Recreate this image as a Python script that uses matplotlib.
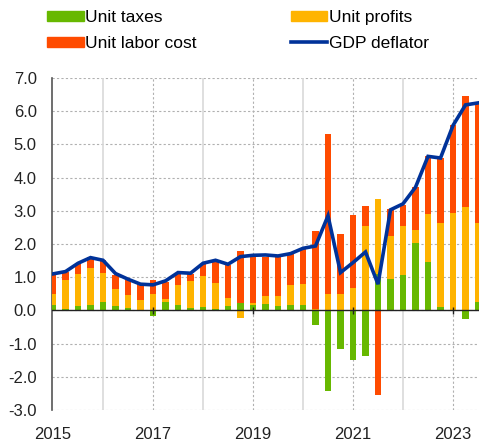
import numpy as np
import matplotlib
matplotlib.use('Agg')
import matplotlib.pyplot as plt
from matplotlib.patches import Patch
from matplotlib.lines import Line2D

plt.rcParams['font.family'] = ['Liberation Sans', 'DejaVu Sans']

# quarterly data, 2015 Q1 - 2023 Q3
quarters = np.arange(2015, 2023.6, 0.25)[:35]

unit_taxes = [0.15, 0.05, 0.13, 0.16, 0.25, 0.12, 0.08, 0.02,
              -0.17, 0.25, 0.15, 0.08, 0.10, 0.05, 0.13, 0.23,
              0.15, 0.18, 0.13, 0.16, 0.16, -0.44, -2.44, -1.16,
              -1.50, -1.38, 1.09, 0.96, 1.06, 2.02, 1.47, 0.10,
              0.02, -0.27, 0.25]
unit_profits = [0.35, 0.87, 0.96, 1.13, 0.89, 0.53, 0.37, 0.28,
                0.48, 0.08, 0.63, 0.81, 0.94, 0.77, 0.25, -0.22,
                0.06, 0.25, 0.30, 0.60, 0.65, 0.05, 0.48, 0.48,
                0.68, 2.53, 2.27, 1.29, 1.47, 0.39, 1.43, 2.53,
                2.90, 3.10, 2.38]
unit_labor = [0.60, 0.25, 0.35, 0.33, 0.37, 0.43, 0.48, 0.50,
              0.45, 0.52, 0.35, 0.20, 0.35, 0.67, 1.00, 1.56,
              1.41, 1.19, 1.19, 0.93, 1.03, 2.35, 4.83, 1.81,
              2.20, 0.60, -2.54, 0.81, 0.65, 1.31, 1.76, 1.96,
              2.65, 3.37, 3.60]
gdp_deflator = [1.10, 1.17, 1.42, 1.59, 1.51, 1.11, 0.94, 0.79,
                0.77, 0.89, 1.14, 1.12, 1.42, 1.51, 1.39, 1.62,
                1.66, 1.67, 1.64, 1.71, 1.87, 1.94, 2.85, 1.14,
                1.44, 1.76, 0.79, 3.03, 3.21, 3.71, 4.64, 4.59,
                5.57, 6.19, 6.25]

green = '#67b800'
yellow = '#ffb400'
red = '#ff4b00'
blue = '#003299'

fig = plt.figure(figsize=(4.79, 4.42), dpi=100)
ax = fig.add_axes([0.1086, 0.0724, 0.8914, 0.7511])

# stack positives upward and negatives downward
series = [(unit_taxes, green), (unit_profits, yellow), (unit_labor, red)]
pos_base = np.zeros(len(quarters))
neg_base = np.zeros(len(quarters))
w = 0.125
for vals, col in series:
    v = np.array(vals)
    pos = np.where(v > 0, v, 0)
    neg = np.where(v < 0, v, 0)
    ax.bar(quarters, pos, w, bottom=pos_base, color=col, zorder=3)
    ax.bar(quarters, neg, w, bottom=neg_base, color=col, zorder=3)
    pos_base += pos
    neg_base += neg

ax.plot(quarters, gdp_deflator, color=blue, lw=2.6, zorder=5,
        solid_joinstyle='miter')

ax.set_xlim(2014.98, 2023.52)
ax.set_ylim(-3, 7)

ax.set_yticks(np.arange(-3, 8, 1))
ax.set_yticklabels([f'{v:.1f}' for v in np.arange(-3, 8, 1)])
ax.set_xticks([2015, 2017, 2019, 2021, 2023])
ax.tick_params(axis='both', length=0, labelsize=12, colors='#222222')
ax.tick_params(axis='y', pad=11)
ax.tick_params(axis='x', pad=12)

# grid
for y in range(-3, 8):
    ax.axhline(y, color='#b0b0b0', lw=0.8, ls=(0, (2, 2)), zorder=1)
for x in [2016, 2018, 2020, 2022]:
    ax.axvline(x, color='#d9d9d9', lw=1.2, zorder=1)
for x in [2017, 2019, 2021, 2023]:
    ax.axvline(x, color='#b0b0b0', lw=0.8, ls=(0, (2, 2)), zorder=1)

ax.axhline(0, color='#222222', lw=1.0, zorder=4)
ax.vlines([2017, 2019, 2021, 2023], -0.1, 0.1, color='#222222', lw=1.0, zorder=4)

for s in ['top', 'right', 'bottom']:
    ax.spines[s].set_visible(False)
ax.spines['left'].set_color('#555555')
ax.spines['left'].set_linewidth(1.2)

handles = [Patch(color=green), Patch(color=yellow), Patch(color=red),
           Line2D([], [], color=blue, lw=2.6)]
labels = ['Unit taxes', 'Unit profits', 'Unit labor cost', 'GDP deflator']
# order so that row 1 = taxes, profits; row 2 = labor, deflator
order = [0, 2, 1, 3]
fig.legend([handles[i] for i in order], [labels[i] for i in order],
           ncol=2, loc='upper left', bbox_to_anchor=(0.066, 1.012),
           frameon=False, fontsize=12.5, handlelength=2.1, handleheight=0.5,
           handletextpad=0.1, columnspacing=5.4, labelspacing=0.6)

fig.savefig('out.png', dpi=100)
